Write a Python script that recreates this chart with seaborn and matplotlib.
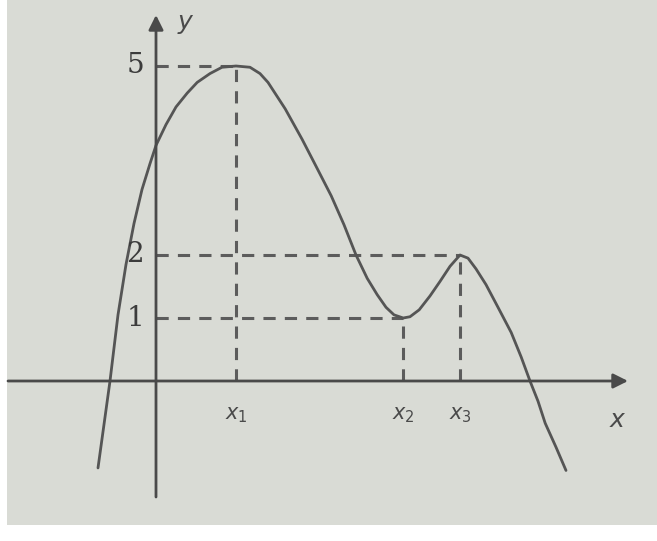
import matplotlib
matplotlib.use("Agg")
import matplotlib.pyplot as plt
import seaborn as sns
import pandas as pd

# Curve points (x in arbitrary units, y in labelled units)
curve_x = [-1.45, -1.15, -0.95, -0.75, -0.55, -0.35, -0.15, 0.0, 0.25, 0.5,
           0.78, 1.03, 1.35, 1.65, 2.0, 2.35, 2.6, 2.8, 3.23, 3.65, 4.0, 4.38,
           4.7, 5.0, 5.28, 5.53, 5.75, 5.95, 6.18, 6.35, 6.58, 6.85, 7.1, 7.35,
           7.6, 7.8, 8.0, 8.25, 8.55, 8.88, 9.13, 9.35, 9.55, 9.73, 10.0, 10.25]
curve_y = [-1.38, 0.0, 1.05, 1.85, 2.5, 3.04, 3.45, 3.74, 4.07, 4.35,
           4.57, 4.74, 4.88, 4.98, 5.0, 4.98, 4.88, 4.74, 4.32, 3.84, 3.41, 2.94,
           2.48, 2.0, 1.63, 1.37, 1.17, 1.05, 1.0, 1.02, 1.13, 1.35, 1.58, 1.82,
           2.0, 1.95, 1.78, 1.53, 1.17, 0.77, 0.38, 0.0, -0.32, -0.67, -1.05, -1.42]

# Special points
x_marks = [2.0, 6.18, 7.6]
x_labels = ["$x_1$", "$x_2$", "$x_3$"]
y_marks = [5, 2, 1]
y_labels = ["5", "2", "1"]

df = pd.DataFrame({"x": curve_x, "y": curve_y})

sns.set_style("white")
plt.rcParams["font.family"] = ["DejaVu Serif", "DejaVu Sans"]

W, H = 657, 541
fig = plt.figure(figsize=(W / 100, H / 100), dpi=100)
fig.patch.set_facecolor("white")
bg = "#d9dbd5"
left_px, bottom_px = 7, H - 525
ax = fig.add_axes([left_px / W, bottom_px / H, (W - left_px) / W, 525 / H])
ax.set_facecolor(bg)

# pixel mapping: origin at (156, 381); 40 px per x unit, 63 px per y unit
ox, oy, kx, ky = 156, 381, 40.0, 63.0
ax.set_xlim((left_px - ox) / kx, (W - ox) / kx)
ax.set_ylim(-(525 - oy) / ky, oy / ky)
for s in ax.spines.values():
    s.set_visible(False)
ax.set_xticks([])
ax.set_yticks([])

axis_c = "#4a4a4a"
dash_c = "#5c5c5c"

# axes with arrows
x_left, x_tip = (8 - ox) / kx, (628 - ox) / kx
y_bot, y_tip = -(497 - oy) / ky, (oy - 15) / ky
ax.annotate("", xy=(x_tip, 0), xytext=(x_left, 0),
            arrowprops=dict(arrowstyle="-|>", color=axis_c, lw=2.0,
                            mutation_scale=22, shrinkA=0, shrinkB=0))
ax.annotate("", xy=(0, y_tip), xytext=(0, y_bot),
            arrowprops=dict(arrowstyle="-|>", color=axis_c, lw=2.0,
                            mutation_scale=22, shrinkA=0, shrinkB=0))

# dashed guide lines
dash = (0, (4, 3))
for xm, ym in zip(x_marks, [5, 1, 2]):
    ax.plot([0, xm], [ym, ym], color=dash_c, lw=2.2, linestyle=dash)
    ax.plot([xm, xm], [0, ym], color=dash_c, lw=2.2, linestyle=dash)

# curve
sns.lineplot(data=df, x="x", y="y", ax=ax, color="#555555", linewidth=2.0,
             sort=False, estimator=None)
ax.set_xlabel("")
ax.set_ylabel("")

# labels
for ym, lab in zip(y_marks, y_labels):
    ax.text(-0.3, ym, lab, ha="right", va="center", fontsize=20,
            color="#3c3c3c")
for xm, lab in zip(x_marks, x_labels):
    ax.text(xm, -0.55, lab, ha="center", va="center", fontsize=15,
            color="#4a4a4a")
ax.text(0.75, y_tip - 0.15, "$y$", ha="center", va="center", fontsize=18,
        color="#4a4a4a")
ax.text(x_tip - 0.25, -0.62, "$x$", ha="center", va="center", fontsize=18,
        color="#4a4a4a")

fig.savefig("out.png", dpi=100, facecolor=fig.get_facecolor())
